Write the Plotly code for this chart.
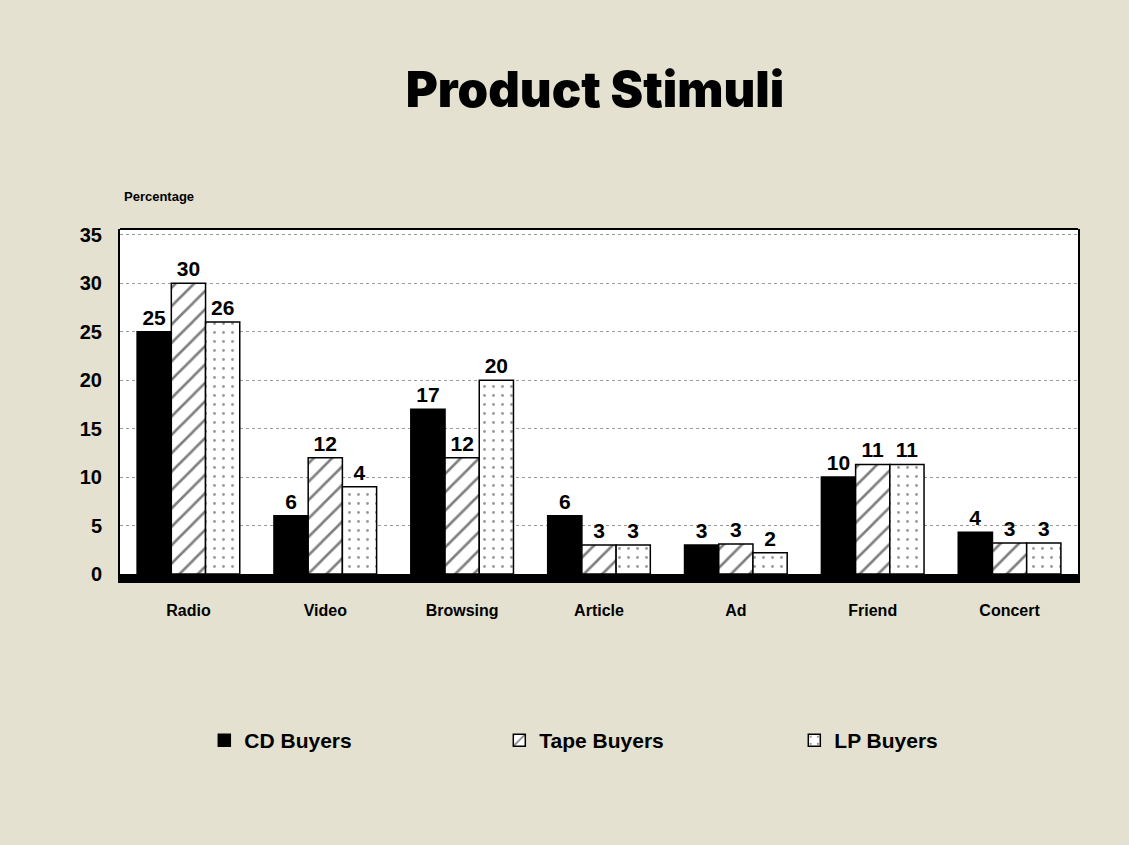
import plotly.graph_objects as go

categories = ["Radio", "Video", "Browsing", "Article", "Ad", "Friend", "Concert"]
series_names = ["CD Buyers", "Tape Buyers", "LP Buyers"]
cd_values = [25, 6, 17, 6, 3, 10, 4.3]
tape_values = [30, 12, 12, 3, 3.1, 11.3, 3.2]
lp_values = [26, 9, 20, 3, 2.2, 11.3, 3.2]
cd_labels = ["25", "6", "17", "6", "3", "10", "4"]
tape_labels = ["30", "12", "12", "3", "3", "11", "3"]
lp_labels = ["26", "4", "20", "3", "2", "11", "3"]
y_ticks = [0, 5, 10, 15, 20, 25, 30, 35]

BOLD = "Liberation Sans"
label_font = dict(family=BOLD, size=21, color="black", weight="bold")

fig = go.Figure()
fig.add_trace(go.Bar(
    name=series_names[0], x=categories, y=cd_values, text=cd_labels,
    marker=dict(color="black", line=dict(color="black", width=1.5)),
))
fig.add_trace(go.Bar(
    name=series_names[1], x=categories, y=tape_values, text=tape_labels,
    marker=dict(color="white", line=dict(color="black", width=1.5),
                pattern=dict(shape="/", fgcolor="black", bgcolor="white", size=13, solidity=0.2)),
))
fig.add_trace(go.Bar(
    name=series_names[2], x=categories, y=lp_values, text=lp_labels,
    marker=dict(color="white", line=dict(color="black", width=1.5),
                pattern=dict(shape=".", fgcolor="#333333", bgcolor="white", size=9, solidity=0.08)),
))
fig.update_traces(textposition="outside", textfont=label_font, cliponaxis=False,
                  texttemplate="%{text}")

fig.update_layout(
    width=1129, height=845,
    margin=dict(l=120, r=51, t=229, b=271),
    paper_bgcolor="#e4e1d0",
    plot_bgcolor="white",
    barmode="group", bargap=0.25, bargroupgap=0,
    showlegend=True,
    title=dict(text="Product Stimuli", x=0.527, xanchor="center", y=1 - 90 / 845, yanchor="middle",
               font=dict(family="Inter, Liberation Sans", size=49, color="black", weight=900)),
    legend=dict(orientation="h", x=0.088, xanchor="left", y=-0.483, yanchor="middle",
                font=dict(family=BOLD, size=21, color="black", weight="bold"),
                entrywidth=250, entrywidthmode="pixels", bgcolor="rgba(0,0,0,0)"),
    font=dict(family=BOLD, color="black"),
)
fig.update_yaxes(range=[0, 35.6], tickvals=y_ticks, showgrid=True, gridcolor="#9a9a9a",
                 griddash="dot", gridwidth=1, zeroline=False,
                 showline=True, linecolor="black", linewidth=2, mirror=True,
                 tickfont=dict(family=BOLD, size=20, color="black", weight="bold"),
                 ticks="", ticklabelstandoff=12)
fig.update_xaxes(showline=True, linecolor="black", linewidth=9, showgrid=False,
                 tickfont=dict(family=BOLD, size=16, color="black", weight="bold"),
                 ticks="", ticklabelstandoff=14)
fig.add_shape(type="line", xref="paper", yref="paper", x0=0, x1=1, y0=1, y1=1,
              line=dict(color="black", width=2))
fig.add_annotation(text="Percentage", xref="paper", yref="paper", x=0.002, y=(575 - 196) / 346,
                   xanchor="left", yanchor="middle", showarrow=False,
                   font=dict(family=BOLD, size=13, color="black", weight="bold"))

fig.write_html("out.html")
